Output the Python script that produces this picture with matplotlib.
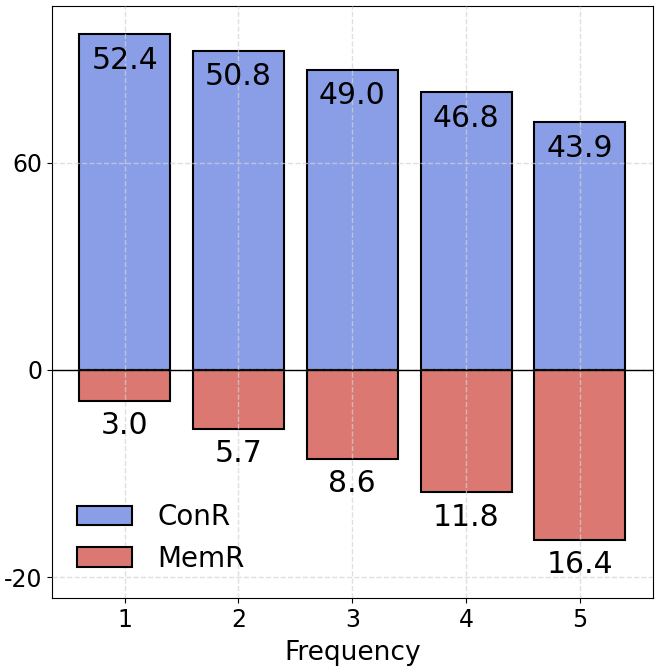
import numpy as np
import matplotlib
matplotlib.use("Agg")
import matplotlib.pyplot as plt

# values
freq = [1, 2, 3, 4, 5]
conr = [52.4, 50.8, 49.0, 46.8, 43.9]
memr = [3.0, 5.7, 8.6, 11.8, 16.4]

# positive bars are drawn shifted down by this offset
offset = 20
ytick_pos = [-20, 0, 20]
ytick_lab = ['-20', '0', '60']

blue = '#8a9ee7'
red = '#dc7872'

fig = plt.figure(figsize=(6.64, 6.71), dpi=100)
ax = fig.add_axes([0.078, 0.109, 0.905, 0.8816])

x = np.array(freq)
up = np.array(conr) - offset
down = -np.array(memr)

ax.bar(x, up, width=0.8, color=blue, edgecolor='black', linewidth=1.5, label='ConR', zorder=2)
ax.bar(x, down, width=0.8, color=red, edgecolor='black', linewidth=1.5, label='MemR', zorder=2)
ax.axhline(0, color='black', linewidth=1, zorder=3)

for xi, u, v in zip(x, up, conr):
    ax.text(xi, u - 1.1, f'{v:.1f}', ha='center', va='top', fontsize=21.5, zorder=4)
for xi, d, v in zip(x, down, memr):
    ax.text(xi, d - 1.0, f'{v:.1f}', ha='center', va='top', fontsize=21.5, zorder=4)

ax.set_ylim(-22, 35.1)
ax.set_yticks(ytick_pos)
ax.set_yticklabels(ytick_lab)
ax.set_xticks(freq)
ax.tick_params(labelsize=17)
ax.set_xlabel('Frequency', fontsize=19, labelpad=6)

ax.set_axisbelow(False)
ax.grid(True, linestyle='--', color='lightgray', alpha=0.7, linewidth=1, zorder=5)

ax.legend(loc='lower left', frameon=False, fontsize=20, handlelength=2.0,
          handletextpad=0.9, bbox_to_anchor=(0.0, 0.0))

fig.savefig('out.png', dpi=100)
